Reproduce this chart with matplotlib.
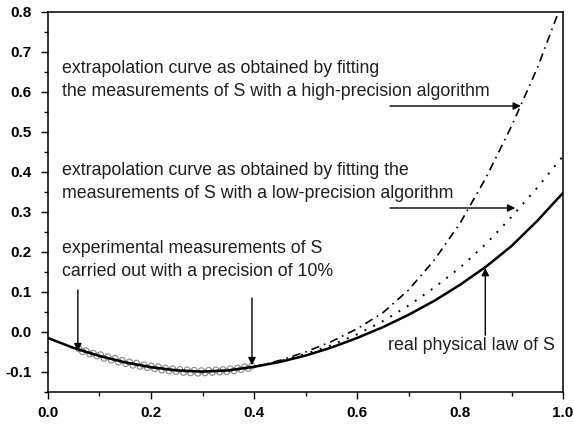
import matplotlib.pyplot as plt
from matplotlib.ticker import MultipleLocator, FormatStrFormatter

plt.rcParams['font.family'] = ['Liberation Sans', 'DejaVu Sans']

# real physical law of S
x_law = [0.00, 0.05, 0.10, 0.15, 0.20, 0.25, 0.30, 0.35, 0.40, 0.45, 0.50,
         0.55, 0.60, 0.65, 0.70, 0.75, 0.80, 0.85, 0.90, 0.95, 1.00]
s_real = [-0.015, -0.040, -0.060, -0.076, -0.088, -0.096, -0.099, -0.096, -0.087,
          -0.075, -0.059, -0.039, -0.015, 0.012, 0.043, 0.078, 0.118, 0.163,
          0.215, 0.278, 0.348]

# extrapolations, from x = 0.40 on
x_ext = [0.40, 0.45, 0.50, 0.55, 0.60, 0.65, 0.70, 0.75, 0.80, 0.85, 0.90, 0.95, 1.00]
s_low = [-0.087, -0.073, -0.055, -0.033, -0.006, 0.027, 0.066, 0.111, 0.161,
         0.220, 0.288, 0.361, 0.440]
s_high = [-0.087, -0.071, -0.050, -0.024, 0.008, 0.048, 0.105, 0.180, 0.272,
          0.385, 0.515, 0.660, 0.830]

# measurements of S (10 % precision)
x_meas = [0.060, 0.067, 0.074, 0.081, 0.088, 0.095, 0.102, 0.109, 0.116, 0.123,
          0.130, 0.137, 0.144, 0.151, 0.158, 0.165, 0.172, 0.179, 0.186, 0.193,
          0.200, 0.207, 0.214, 0.221, 0.228, 0.235, 0.242, 0.249, 0.256, 0.263,
          0.270, 0.277, 0.284, 0.291, 0.298, 0.305, 0.312, 0.319, 0.326, 0.333,
          0.340, 0.347, 0.354, 0.361, 0.368, 0.375, 0.382, 0.389, 0.396]
s_meas = [-0.042, -0.049, -0.047, -0.055, -0.053, -0.060, -0.057, -0.066, -0.062, -0.070,
          -0.066, -0.075, -0.071, -0.079, -0.075, -0.083, -0.078, -0.086, -0.082, -0.089,
          -0.085, -0.092, -0.087, -0.095, -0.090, -0.097, -0.092, -0.099, -0.094, -0.101,
          -0.095, -0.102, -0.096, -0.103, -0.097, -0.102, -0.096, -0.101, -0.095, -0.100,
          -0.094, -0.099, -0.092, -0.097, -0.090, -0.094, -0.087, -0.091, -0.085]

fig = plt.figure(figsize=(5.74, 4.24), dpi=100)
ax = fig.add_axes([0.0836, 0.0755, 0.8974, 0.8962])

ax.scatter(x_meas, s_meas, s=18, facecolors='none', edgecolors='#8a8a8a',
           linewidths=0.8, zorder=2)
ax.plot(x_law, s_real, color='black', lw=1.8, zorder=3)
ax.plot(x_ext, s_low, color='black', lw=1.4, linestyle=(0, (1, 4)), zorder=3)
ax.plot(x_ext, s_high, color='black', lw=1.2, linestyle=(0, (5, 3, 1, 3)), zorder=3)

ax.set_xlim(0.0, 1.0)
ax.set_ylim(-0.15, 0.8)
ax.xaxis.set_major_locator(MultipleLocator(0.2))
ax.xaxis.set_minor_locator(MultipleLocator(0.1))
ax.yaxis.set_major_locator(MultipleLocator(0.1))
ax.yaxis.set_minor_locator(MultipleLocator(0.05))
ax.xaxis.set_major_formatter(FormatStrFormatter('%.1f'))
ax.yaxis.set_major_formatter(FormatStrFormatter('%.1f'))
ax.tick_params(which='major', direction='out', length=5, width=1.0, labelsize=11)
ax.tick_params(axis='x', which='major', pad=5)
ax.tick_params(axis='y', which='major', pad=7)
ax.tick_params(which='minor', direction='out', length=3, width=1.0)
for lab in ax.get_xticklabels() + ax.get_yticklabels():
    lab.set_fontweight('bold')
for sp in ax.spines.values():
    sp.set_linewidth(1.1)

fs = 12.8
tc = '#1e1e1e'
ax.text(0.027, 0.631, 'extrapolation curve as obtained by fitting\n'
        'the measurements of S with a high-precision algorithm',
        fontsize=fs, color=tc, va='center', ha='left', linespacing=1.45)
ax.text(0.027, 0.375, 'extrapolation curve as obtained by fitting the\n'
        'measurements of S with a low-precision algorithm',
        fontsize=fs, color=tc, va='center', ha='left', linespacing=1.45)
ax.text(0.027, 0.18, 'experimental measurements of S\n'
        'carried out with a precision of 10%',
        fontsize=fs, color=tc, va='center', ha='left', linespacing=1.45)
ax.text(0.985, -0.033, 'real physical law of S', fontsize=fs, color=tc,
        va='center', ha='right')

arrow = dict(arrowstyle='-|>', color='black', lw=1.0, mutation_scale=11,
             shrinkA=0, shrinkB=0)
ax.annotate('', xy=(0.918, 0.565), xytext=(0.664, 0.565), arrowprops=arrow)
ax.annotate('', xy=(0.907, 0.31), xytext=(0.664, 0.31), arrowprops=arrow)
ax.annotate('', xy=(0.058, -0.048), xytext=(0.058, 0.105), arrowprops=arrow)
ax.annotate('', xy=(0.396, -0.083), xytext=(0.396, 0.085), arrowprops=arrow)
ax.annotate('', xy=(0.849, 0.16), xytext=(0.849, -0.008), arrowprops=arrow)

fig.savefig('out.png', dpi=100)
